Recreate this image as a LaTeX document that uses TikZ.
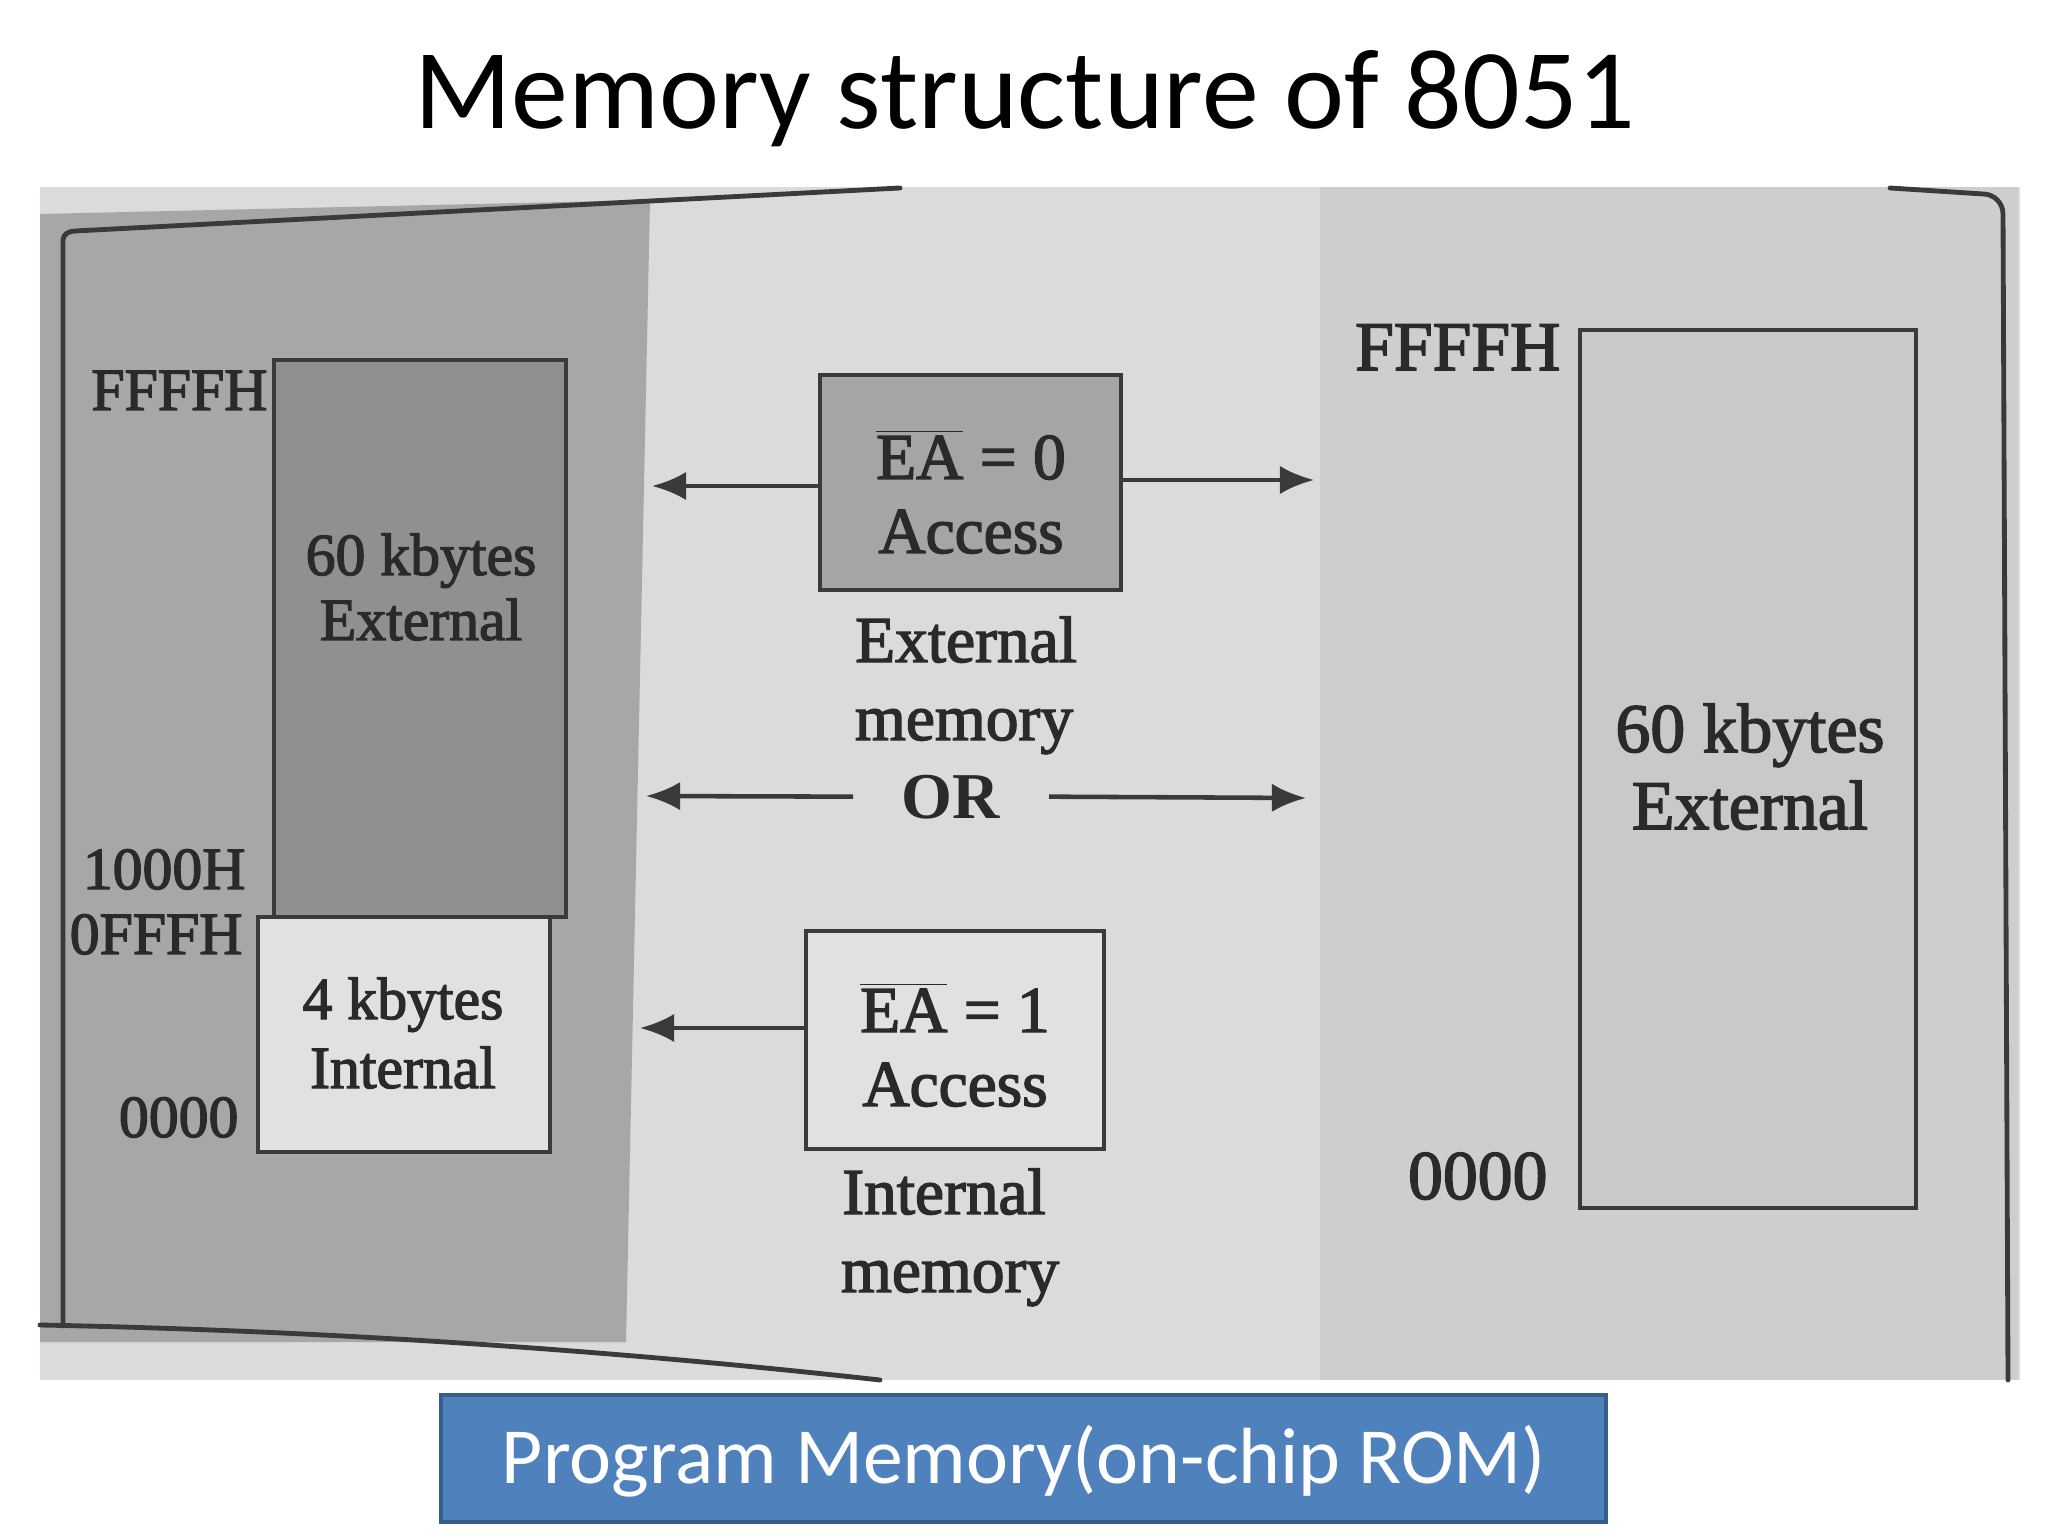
\documentclass[tikz,border=0pt]{standalone}
\usepackage{fontspec}
\setmainfont{Liberation Serif}
\newfontfamily\heavyfont[FakeBold=2.2]{Liberation Serif}
\newfontfamily\slidefont{Carlito}
\usetikzlibrary{arrows.meta,fit}
\definecolor{photomid}{HTML}{DADCDA}
\definecolor{photoright}{HTML}{CDCFCD}
\definecolor{photodark}{HTML}{A6A8A6}
\definecolor{boxdark}{HTML}{8F918F}
\definecolor{boxwhite}{HTML}{E0E1E0}
\definecolor{boxea}{HTML}{A4A6A4}
\definecolor{boxright}{HTML}{C8CAC8}
\definecolor{linecol}{HTML}{3A3A3A}
\definecolor{txtcol}{HTML}{2A2A2A}
\definecolor{bluefill}{HTML}{4F81BD}
\definecolor{blueborder}{HTML}{385D8A}
\begin{document}
\begin{tikzpicture}[x=0.3515625pt,y=-0.3515625pt,
  membox/.style={draw=linecol, line width=1.6pt, inner sep=0pt},
  frameline/.style={draw=linecol, line width=1.7pt, line cap=round, line join=round},
  lblL/.style={text=txtcol, inner sep=0pt, font=\heavyfont\fontsize{21}{25}\selectfont},
  lblM/.style={text=txtcol, inner sep=0pt, font=\heavyfont\fontsize{23}{27}\selectfont},
  lblR/.style={text=txtcol, inner sep=0pt, font=\heavyfont\fontsize{24.5}{29}\selectfont},
  arr/.style={draw=linecol, line width=1.6pt, -{Latex[length=12pt,width=10pt]}}]
\useasboundingbox (0,0) rectangle (2048,1536);
\fill[white] (0,0) rectangle (2048,1536);

% title
\node[anchor=base, inner sep=0pt, font=\slidefont\fontsize{40}{48}\selectfont] (title) at (1025,129) {Memory structure of 8051};

% photo background
\fill[photomid] (40,187) rectangle (2020,1380);
\fill[photoright] (1320,187) rectangle (2018,1380);
\fill[photodark] (40,214) -- (650,200) -- (626,1342) -- (40,1342) -- cycle;

% page frame
\draw[frameline] (63,1326) -- (63,240) to[out=90,in=180] (75,231) -- (900,188);
\draw[frameline] (1890,188) -- (1983,194) to[out=0,in=90] (2003,214) -- (2008,1380);
\draw[frameline] (40,1325) .. controls (400,1332) and (700,1360) .. (880,1380);

% left memory map
\node[membox, fill=boxdark, fit={(274,360)(566,917)}] (ext1) {};
\node[membox, fill=boxwhite, fit={(258,917)(550,1152)}] (int1) {};
\node[lblL, anchor=base] (ext1a) at (421,575) {60 kbytes};
\node[lblL, anchor=base] (ext1b) at (421,640) {External};
\node[lblL, anchor=base] (int1a) at (403,1019) {4 kbytes};
\node[lblL, anchor=base] (int1b) at (403,1088) {Internal};
\node[lblL, anchor=base east] (lf) at (268,410) {FFFFH};
\node[lblL, anchor=base east] (l1000) at (246,889) {1000H};
\node[lblL, anchor=base east] (l0fff) at (243,954) {0FFFH};
\node[lblL, anchor=base east] (l0000) at (239,1137) {0000};

% middle
\node[membox, fill=boxea, fit={(820,375)(1121,590)}] (ea0) {};
\node[lblM, anchor=base] (ea0a) at (971,479) {\(\overline{\mbox{EA}}\) = 0};
\node[lblM, anchor=base] (ea0b) at (971,553) {Access};
\node[lblM, anchor=base] (extm) at (966,662) {External};
\node[lblM, anchor=base] (extm2) at (964,740) {memory};
\node[lblM, anchor=base, inner xsep=17pt, font=\bfseries\fontsize{23}{27}\selectfont] (or) at (951,818) {OR};
\node[membox, fill=boxwhite, fit={(806,931)(1104,1149)}] (ea1) {};
\node[lblM, anchor=base] (ea1a) at (955,1032) {\(\overline{\mbox{EA}}\) = 1};
\node[lblM, anchor=base] (ea1b) at (955,1106) {Access};
\node[lblM, anchor=base] (intm) at (944,1214) {Internal};
\node[lblM, anchor=base] (intm2) at (950,1292) {memory};

\coordinate (a0L) at (652,486);
\coordinate (a0R) at (1314,480);
\coordinate (orL) at (646,796);
\coordinate (orR) at (1306,798);
\coordinate (a1L) at (640,1028);
\draw[arr] (ea0.west |- a0L) -- (a0L);
\draw[arr] (ea0.east |- a0R) -- (a0R);
\draw[arr] (or.west) -- (orL);
\draw[arr] (or.east) -- (orR);
\draw[arr] (ea1.west |- a1L) -- (a1L);

% right memory map
\node[membox, fill=boxright, fit={(1580,330)(1916,1208)}] (ext2) {};
\node[lblR, anchor=base] (ext2a) at (1750,752) {60 kbytes};
\node[lblR, anchor=base] (ext2b) at (1750,829) {External};
\node[lblR, anchor=base east] (rf) at (1561,370) {FFFFH};
\node[lblR, anchor=base east] (r0000) at (1548,1199) {0000};

% caption box
\node[draw=blueborder, fill=bluefill, line width=1.4pt, inner sep=0pt, fit={(441,1395)(1606,1522)}] (pm) {};
\node[anchor=base, inner sep=0pt, text=white, font=\slidefont\fontsize{28}{34}\selectfont] (pmt) at (1024,1483) {Program Memory(on-chip ROM)};
\end{tikzpicture}
\end{document}
